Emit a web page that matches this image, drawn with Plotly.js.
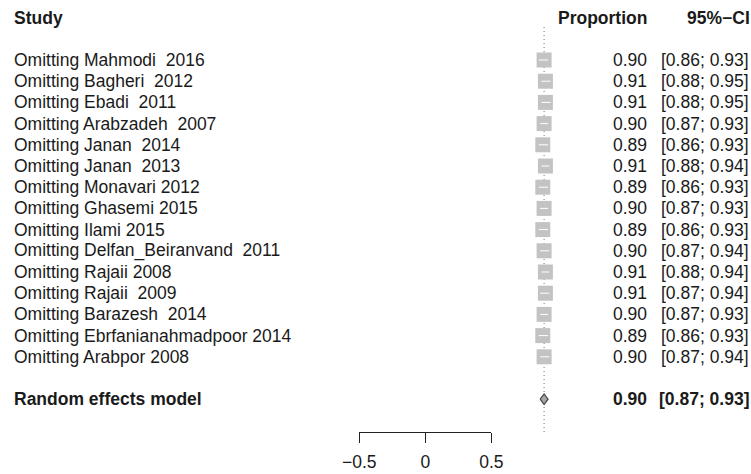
<!DOCTYPE html>
<html>
<head>
<meta charset="utf-8">
<script src="https://cdn.plot.ly/plotly-3.0.1.min.js"></script>
<style>html,body{margin:0;padding:0;background:#fff;}#chart{width:751px;height:474px;}</style>
</head>
<body>
<div id="chart"></div>
<script>
// ---- data ----
const studies = ["Mahmodi  2016","Bagheri  2012","Ebadi  2011","Arabzadeh  2007","Janan  2014","Janan  2013","Monavari 2012","Ghasemi 2015","Ilami 2015","Delfan_Beiranvand  2011","Rajaii 2008","Rajaii  2009","Barazesh  2014","Ebrfanianahmadpoor 2014","Arabpor 2008"];
const proportion = [0.90,0.91,0.91,0.90,0.89,0.91,0.89,0.90,0.89,0.90,0.91,0.91,0.90,0.89,0.90];
const lower = [0.86,0.88,0.88,0.87,0.86,0.88,0.86,0.87,0.86,0.87,0.88,0.87,0.87,0.86,0.87];
const upper = [0.93,0.95,0.95,0.93,0.93,0.94,0.93,0.93,0.93,0.94,0.94,0.94,0.93,0.93,0.94];
const pooledLabel = "Random effects model";
const pooled = 0.90, pooledLower = 0.87, pooledUpper = 0.93;
const axisTicks = [-0.5, 0, 0.5];
const axisTickText = ["\u22120.5", "0", "0.5"];

// ---- layout helpers ----
const W = 751, H = 474;
const FONT = "Liberation Sans, Arial, Helvetica, sans-serif";
const FS = 17.5;
const rowPx0 = 60, rowStep = 21.2;          // pixel of row 1 and step
const pxPerUnit = 132, xZeroPx = 425.3;     // x scale
const rows = studies.map((s, i) => i + 1);
const pooledRow = studies.length + 2;
const headerRow = -1;
const fmt = v => v.toFixed(2);
const sp = s => s.replace(/  /g, " \u00a0");

const xr = [(0 - xZeroPx) / pxPerUnit, (W - xZeroPx) / pxPerUnit];
const yTop = 1 - rowPx0 / rowStep, yBot = 1 + (H - rowPx0) / rowStep;
const pxToRow = p => 1 + (p - rowPx0) / rowStep;

const traces = [];
// reference dotted line at pooled estimate
traces.push({
  x: [pooled, pooled], y: [pxToRow(27), pxToRow(432)],
  mode: "lines", line: {color: "#777", width: 1, dash: "1px,3px"},
  hoverinfo: "skip", showlegend: false, xaxis: "x", yaxis: "y"
});
// squares
traces.push({
  x: proportion, y: rows, mode: "markers",
  marker: {symbol: "square", size: 15, color: "#c3c3c3", line: {width: 0}},
  hoverinfo: "skip", showlegend: false, xaxis: "x", yaxis: "y"
});
// CI lines (inside squares, white)
const cx = [], cy = [];
rows.forEach((r, i) => { cx.push(lower[i], upper[i], null); cy.push(r, r, null); });
traces.push({
  x: cx, y: cy, mode: "lines", line: {color: "#ffffff", width: 1},
  hoverinfo: "skip", showlegend: false, xaxis: "x", yaxis: "y"
});
// diamond
const dh = 0.25;
traces.push({
  x: [pooledLower, pooled, pooledUpper, pooled, pooledLower],
  y: [pooledRow, pooledRow - dh, pooledRow, pooledRow + dh, pooledRow],
  mode: "lines", fill: "toself", fillcolor: "#a6a6a6",
  line: {color: "#444", width: 1.2},
  hoverinfo: "skip", showlegend: false, xaxis: "x", yaxis: "y"
});
// dummy trace on x2 so the axis draws
traces.push({x: axisTicks, y: [pooledRow, pooledRow, pooledRow], mode: "markers",
  marker: {opacity: 0}, hoverinfo: "skip", showlegend: false, xaxis: "x2", yaxis: "y"});

const txt = "#1a1a1a";
const ann = [];
const A = (text, xpx, row, anchor, bold) => ann.push({
  text: bold ? "<b>" + text + "</b>" : text,
  x: xpx / W, xref: "paper", y: row, yref: "y",
  xanchor: anchor, yanchor: "middle", showarrow: false,
  font: {family: FONT, size: FS, color: txt}, borderpad: 0
});
A("Study", 13, headerRow, "left", true);
A("Proportion", 648, headerRow, "right", true);
A("95%\u2212CI", 751, headerRow, "right", true);
rows.forEach((r, i) => {
  A(sp("Omitting " + studies[i]), 13, r, "left", false);
  A(fmt(proportion[i]), 648, r, "right", false);
  A("[" + fmt(lower[i]) + "; " + fmt(upper[i]) + "]", 750, r, "right", false);
});
A(pooledLabel, 13, pooledRow, "left", true);
A(fmt(pooled), 648, pooledRow, "right", true);
A("[" + fmt(pooledLower) + "; " + fmt(pooledUpper) + "]", 750, pooledRow, "right", true);

const layout = {
  width: W, height: H,
  margin: {l: 0, r: 0, t: 0, b: 0, pad: 0},
  paper_bgcolor: "#fff", plot_bgcolor: "#fff",
  showlegend: false,
  xaxis: {range: xr, visible: false, fixedrange: true},
  xaxis2: {
    domain: [(xZeroPx - 0.5 * pxPerUnit) / W, (xZeroPx + 0.5 * pxPerUnit) / W],
    range: [-0.5, 0.5], anchor: "free", position: 1 - 432 / H,
    showline: true, linecolor: "#222", linewidth: 1,
    ticks: "outside", ticklen: 10, tickcolor: "#222", tickwidth: 1,
    tickvals: axisTicks, ticktext: axisTickText, ticklabelstandoff: 4,
    showgrid: false, zeroline: false,
    tickfont: {family: FONT, size: FS, color: txt}
  },
  yaxis: {range: [yBot, yTop], visible: false, fixedrange: true},
  annotations: ann
};
Plotly.newPlot("chart", traces, layout, {staticPlot: true, displayModeBar: false});
</script>
</body>
</html>
